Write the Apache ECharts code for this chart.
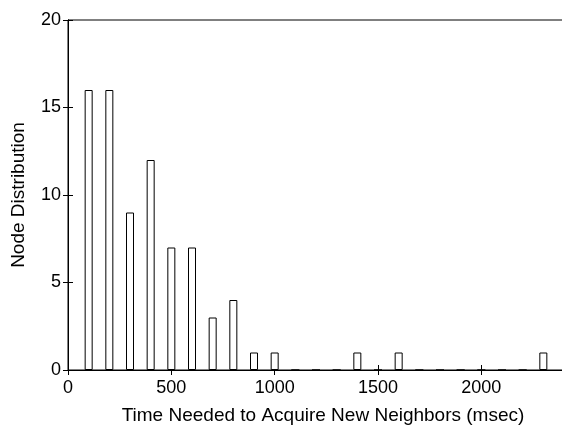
<!DOCTYPE html>
<html>
<head>
<meta charset="utf-8">
<script src="https://cdn.jsdelivr.net/npm/echarts@6/dist/echarts.min.js"></script>
<style>
  html, body { margin: 0; padding: 0; background: #fff; }
  #main { width: 562px; height: 425px; }
</style>
</head>
<body>
<div id="main"></div>
<script>
// bin centres (msec) and node counts
var binCenters = [100, 200, 300, 400, 500, 600, 700, 800, 900, 1000, 1100, 1200,
                  1300, 1400, 1500, 1600, 1700, 1800, 1900, 2000, 2100, 2200, 2300];
var nodeCounts = [16, 16, 9, 12, 7, 7, 3, 4, 1, 1, 0, 0,
                  0, 1, 0, 1, 0, 0, 0, 0, 0, 0, 1];
var xTicks = [0, 500, 1000, 1500, 2000];
var yTicks = [0, 5, 10, 15, 20];

var font = 'Liberation Sans';

var barData = binCenters.map(function (c, i) { return [c, nodeCounts[i]]; });

var chart = echarts.init(document.getElementById('main'));

var option = {
  animation: false,
  grid: {
    left: 68, top: 20, width: 496, bottom: 55,
    outerBoundsMode: 'none', containLabel: false,
    show: true, borderColor: '#000', borderWidth: 1, backgroundColor: 'transparent'
  },
  xAxis: [{
    type: 'value', min: 0, max: 2400, interval: 500,
    name: 'Time Needed to Acquire New Neighbors (msec)',
    nameLocation: 'middle', nameGap: 36,
    nameTextStyle: { fontFamily: font, fontSize: 19, color: '#000', padding: [0, 0, 0, 14] },
    axisLine: { show: true, lineStyle: { color: '#000' } },
    axisTick: { inside: true, length: 5, lineStyle: { color: '#000' } },
    axisLabel: {
      fontFamily: font, fontSize: 18, color: '#000', margin: 9,
      showMaxLabel: false,
      formatter: function (v) { return xTicks.indexOf(v) >= 0 ? String(v) : ''; }
    },
    splitLine: { show: false }
  }, {
    type: 'value', min: 0, max: 2400, interval: 500, position: 'top',
    axisLine: { show: true, lineStyle: { color: '#000' } },
    axisTick: { inside: true, length: 5, lineStyle: { color: '#000' } },
    axisLabel: { show: false },
    splitLine: { show: false }
  }],
  yAxis: [{
    type: 'value', min: 0, max: 20, interval: 5,
    name: 'Node Distribution',
    nameLocation: 'middle', nameGap: 40,
    nameTextStyle: { fontFamily: font, fontSize: 19, color: '#000' },
    axisLine: { show: true, lineStyle: { color: '#000' } },
    axisTick: { inside: true, length: 5, lineStyle: { color: '#000' } },
    axisLabel: {
      fontFamily: font, fontSize: 18, color: '#000', margin: 7,
      formatter: function (v) { return yTicks.indexOf(v) >= 0 ? String(v) : ''; }
    },
    splitLine: { show: false }
  }, {
    type: 'value', min: 0, max: 20, interval: 5, position: 'right',
    axisLine: { show: true, lineStyle: { color: '#000' } },
    axisTick: { inside: true, length: 5, lineStyle: { color: '#000' } },
    axisLabel: { show: false },
    splitLine: { show: false }
  }],
  series: [{
    type: 'bar',
    xAxisIndex: 0, yAxisIndex: 0,
    data: barData,
    barWidth: 8,
    itemStyle: { color: '#fff', borderColor: '#000', borderWidth: 1 }
  }]
};

chart.setOption(option);
</script>
</body>
</html>
